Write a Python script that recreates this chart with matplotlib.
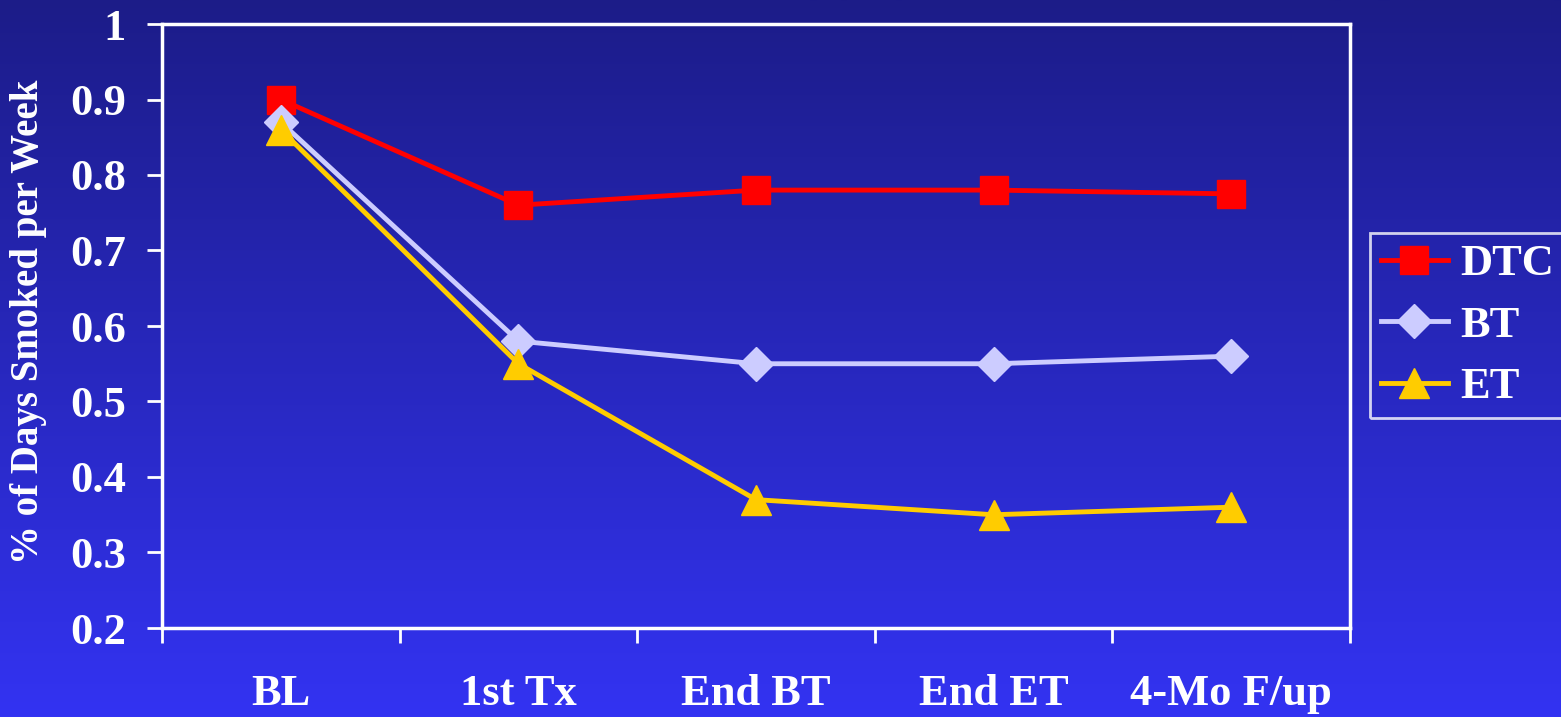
import numpy as np
import matplotlib.pyplot as plt
from matplotlib.colors import LinearSegmentedColormap

categories = ['BL', '1st Tx', 'End BT', 'End ET', '4-Mo F/up']
dtc = [0.90, 0.76, 0.78, 0.78, 0.775]
bt = [0.87, 0.58, 0.55, 0.55, 0.56]
et = [0.86, 0.55, 0.37, 0.35, 0.36]

plt.rcParams['font.family'] = ['Liberation Serif', 'DejaVu Serif']
plt.rcParams['font.weight'] = 'bold'

fig = plt.figure(figsize=(15.61, 7.17), dpi=100)
W, H = 1561, 717

# gradient background over the whole figure
bg = fig.add_axes([0, 0, 1, 1], zorder=-10)
grad = LinearSegmentedColormap.from_list('bg', ['#1c1c88', '#3333f2'])
bg.imshow(np.linspace(0, 1, 256).reshape(-1, 1), aspect='auto', cmap=grad,
          extent=[0, 1, 0, 1], origin='upper')
bg.axis('off')

ax = fig.add_axes([162 / W, 1 - 628 / H, (1350 - 162) / W, (628 - 24) / H])
ax.patch.set_alpha(0)

x = np.arange(len(categories))
ax.plot(x, dtc, color='#ff0000', lw=3.5, marker='s', ms=20, label='DTC', zorder=3)
ax.plot(x, bt, color='#ccccff', lw=3.5, marker='D', ms=17, label='BT', zorder=4)
ax.plot(x, et, color='#ffcc00', lw=3.5, marker='^', ms=22, label='ET', zorder=5)

ax.set_xlim(-0.5, 4.5)
ax.set_ylim(0.2, 1.0)
ax.set_yticks(np.arange(0.2, 1.01, 0.1))
ax.set_yticklabels(['0.2', '0.3', '0.4', '0.5', '0.6', '0.7', '0.8', '0.9', '1'])
ax.set_xticks(np.arange(-0.5, 4.6, 1))
ax.set_xticklabels([])
ax.set_xticks(x, minor=True)
ax.set_xticklabels(categories, minor=True)

ax.tick_params(axis='x', which='major', direction='out', length=11, width=2, color='white')
ax.tick_params(axis='x', which='minor', length=0, pad=33, labelsize=32, labelcolor='white')
ax.tick_params(axis='y', direction='out', length=11, width=2, color='white',
               labelsize=32, labelcolor='white', pad=15)
for s in ax.spines.values():
    s.set_color('white')
    s.set_linewidth(2.5)

ax.set_ylabel('% of Days Smoked per Week', color='white', fontsize=28,
              fontweight='bold')
ax.yaxis.set_label_coords(47 / W, 1 - 322 / H, transform=fig.transFigure)

leg = ax.legend(loc='upper left', bbox_to_anchor=(1370 / W, 1 - 233 / H),
                bbox_transform=fig.transFigure,
                fontsize=32, frameon=True, fancybox=False, edgecolor='white',
                facecolor='none', labelcolor='white', handlelength=1.5,
                handletextpad=0.27, borderpad=0.25, labelspacing=0.48,
                borderaxespad=0, markerscale=1.0)
leg.get_frame().set_linewidth(2)

fig.savefig('out.png', dpi=100)
